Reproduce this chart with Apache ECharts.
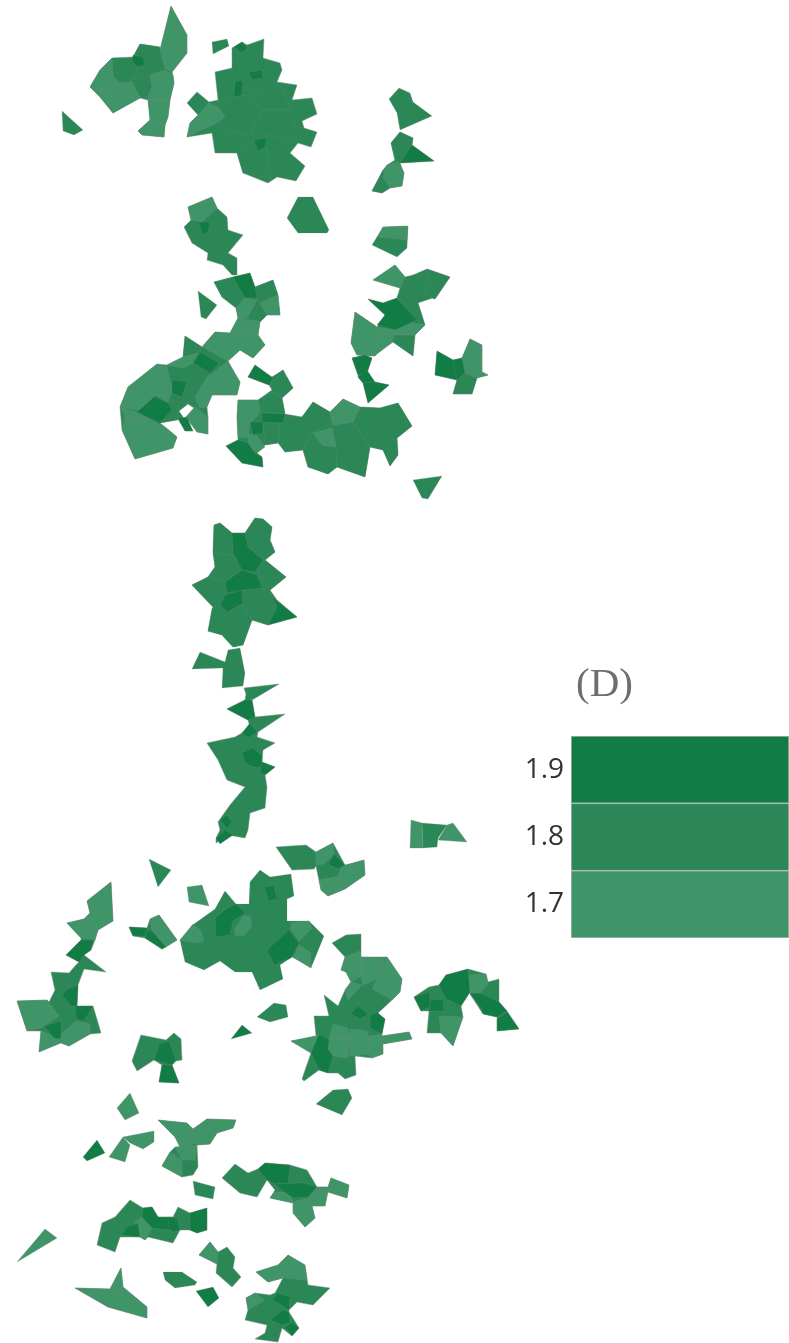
<!DOCTYPE html>
<html><head><meta charset="utf-8">
<style>html,body{margin:0;padding:0;background:#fff}#c{width:789px;height:1343px}</style>
<script src="https://cdn.jsdelivr.net/npm/echarts@6/dist/echarts.min.js"></script>
</head><body><div id="c"></div>
<script>
const legendLabels = ['1.9','1.8','1.7'];
const legendValues = [1.9,1.8,1.7];
const colors = {1.9:'#127c45',1.8:'#2b8856',1.7:'#3f9568'};

const patches18 = [
[232,48,242,42,247,45,264,39,263,58,280,63,282,70,277,82,297,85,292,100,312,98,317,114,302,121,304,128,317,132,311,147,298,143,290,153,305,166,296,181,277,177,268,183,243,173,237,153,215,153,212,133,187,137,190,123,198,115,187,103,197,92,209,102,218,100,215,72,232,68],
[171,6,187,35,187,53,172,72,173,75,174,83,170,100,168,117,165,125,164,137,142,135,138,131,150,120,148,100,140,98,113,113,100,97,90,87,100,70,112,58,133,57,140,44,160,47,160,50,165,30],
[400,132,413,138,412,145,434,161,400,163,404,173,402,186,390,188,382,193,372,191,383,170,387,165,395,160,391,143],
[188,207,212,197,217,208,227,217,228,230,243,235,228,253,237,258,237,275,232,275,223,265,207,260,208,253,192,243,184,227,191,220],
[214,282,233,277,250,273,255,287,273,280,278,295,280,315,267,315,260,322,258,335,265,345,253,358,240,350,228,361,240,382,237,395,212,395,207,407,208,417,208,434,197,432,186,417,194,408,188,404,179,411,185,420,193,431,185,431,178,419,160,423,165,427,177,437,173,448,135,459,122,430,120,407,128,387,157,364,167,365,183,357,185,336,202,347,215,332,230,333,238,318,236,308,222,297],
[255,365,273,378,283,370,293,388,282,398,285,414,302,417,313,402,330,412,343,399,360,407,380,408,398,403,412,426,397,438,398,455,390,466,383,450,370,447,365,477,337,467,328,474,308,467,303,450,285,452,278,443,265,445,257,453,262,457,263,467,242,463,226,446,238,440,237,417,238,400,258,400,272,390,269,385,248,377],
[373,280,395,265,405,277,413,275,427,269,450,277,435,299,425,295,418,303,425,325,415,335,413,356,393,342,378,353,375,356,357,355,351,343,355,312,377,327,385,315,368,299,383,303,397,298,400,288],
[352,358,365,355,372,358,367,373,375,382,389,385,368,403,363,383,358,377,358,375],
[437,351,453,360,462,358,470,339,482,345,482,372,488,375,477,378,472,394,453,394,457,380,435,375],
[214,525,220,523,232,533,245,533,255,518,263,519,272,527,270,540,275,552,265,560,286,577,270,590,277,600,297,617,268,625,252,620,243,645,233,647,222,635,208,631,213,607,192,585,208,577,215,567,213,552],
[244,688,279,684,252,700,255,717,285,714,258,732,257,737,275,743,263,750,262,762,275,767,265,775,267,787,265,808,250,813,248,830,245,838,228,835,216,843,216,838,220,830,218,822,230,805,245,787,227,780,218,760,207,743,235,737,242,733,250,727,248,720,227,709,245,700,246,694],
[111,882,113,921,98,930,95,940,91,950,84,955,106,972,84,969,78,985,77,1006,93,1006,101,1033,90,1034,69,1046,61,1043,39,1052,41,1031,27,1031,17,1001,47,1000,49,1002,55,990,51,972,69,973,76,965,79,962,66,955,81,940,81,938,67,923,84,919,90,913,87,901],
[129,927,147,928,150,919,159,915,177,940,162,949,145,938,133,936],
[276,847,306,845,316,852,333,843,345,865,364,860,365,875,345,889,328,896,321,890,316,866,314,869,292,870],
[332,943,346,935,361,934,361,957,387,957,402,979,400,992,392,1000,377,1014,385,1019,382,1034,382,1036,409,1032,412,1039,383,1044,383,1054,372,1058,355,1056,356,1075,345,1079,338,1073,328,1073,319,1070,304,1081,302,1079,311,1053,291,1041,316,1036,314,1016,329,1016,324,995,338,1006,345,990,351,982,346,972,341,970,345,957],
[414,997,429,987,439,985,446,975,468,969,486,974,488,982,499,979,499,1002,507,1011,519,1029,497,1031,497,1017,483,1014,470,994,470,992,461,1006,463,1017,453,1046,441,1033,427,1033,429,1011,421,1011],
[141,1035,166,1040,174,1033,181,1039,182,1060,176,1061,172,1065,179,1083,159,1082,162,1065,154,1060,137,1071,132,1061],
[158,1120,187,1123,193,1129,207,1119,236,1120,233,1128,217,1133,210,1144,197,1145,198,1167,193,1175,182,1177,162,1166,170,1152,175,1147,180,1147,175,1137],
[222,1178,235,1164,248,1173,258,1169,265,1163,290,1165,307,1170,317,1187,328,1187,331,1178,349,1185,347,1198,328,1192,325,1206,312,1206,315,1218,305,1227,293,1213,293,1203,270,1198,275,1190,267,1180,257,1197,240,1193],
[102,1223,115,1217,130,1200,143,1208,152,1207,158,1217,173,1217,178,1207,190,1213,207,1208,207,1230,197,1233,190,1230,180,1230,173,1243,148,1237,145,1240,140,1237,120,1237,115,1252,97,1245],
[75,1288,110,1289,121,1268,123,1287,147,1307,147,1318,108,1307],
[256,1272,278,1265,288,1255,305,1265,308,1285,330,1288,313,1305,297,1302,289,1310,289,1312,299,1328,292,1336,282,1328,278,1342,255,1339,265,1333,267,1325,245,1320,248,1310,246,1298,255,1293,270,1295,275,1293,283,1278,268,1282],
[199,1255,210,1242,218,1252,227,1247,235,1257,233,1268,241,1277,232,1287,216,1273,217,1264]
];

const cells18 = [
[218,100,245,95,262,110,250,135,222,130],[245,95,280,85,292,110,262,110],[262,110,292,110,298,143,270,135,250,135],[237,153,254,140,268,150,270,178,243,173],
[140,44,160,47,165,68,150,75,138,65,133,57],[112,58,133,58,138,67,133,78,120,83,113,75],[133,78,150,75,152,87,145,98,140,98,132,82],
[62,111,83,130,74,135,63,131],[212,42,227,39,229,46,213,54],
[399,88,410,93,413,102,432,116,400,130,397,113,389,99],[400,132,413,138,412,145,400,163,395,160,391,143],[383,170,390,188,382,193,372,191],
[298,197,313,197,329,230,327,233,298,233,287,218],[383,227,408,226,407,248,397,257,372,245],
[198,291,217,305,206,319,201,317],
[214,282,233,277,245,298,235,307,222,297],[255,287,273,280,278,295,260,303,257,298],[257,300,260,303,267,315,260,322,247,318],
[185,336,202,347,198,353,183,357],[165,367,193,363,210,373,200,393,188,403,172,407,172,387],[168,402,188,403,177,410,178,420,160,423,172,410],
[270,378,283,370,293,388,282,398,272,390],[272,392,282,398,285,413,262,413,258,400],[263,423,280,423,278,443,265,445],
[285,417,302,417,313,402,330,412,332,423,313,432,303,450,285,452,278,442,280,423],[303,450,313,432,322,445,336,447,337,467,328,474,308,467],[332,425,353,422,370,447,365,477,337,467,336,447],
[360,407,380,408,398,403,412,426,397,438,398,455,390,466,383,450,370,447,353,422],
[393,342,395,335,415,335,413,356],[397,297,405,283,413,275,428,275,433,298,418,303,425,325,417,320],[427,269,450,277,435,299,425,295,428,275],
[457,380,465,374,477,378,472,394,453,394],[413,480,442,476,428,499,422,498],
[214,525,220,523,232,533,233,553,230,560,213,552],[245,533,255,518,263,519,272,527,270,540,275,552,265,560,248,547],[213,552,233,555,242,570,225,582,208,577,215,567],[265,560,286,577,270,590,258,573],
[192,585,208,577,225,582,225,595,213,607],[243,590,262,588,270,593,277,607,268,625,252,620,242,603],[212,608,220,605,230,612,242,605,252,620,243,645,233,647,222,635,208,631],
[200,652,225,662,228,650,240,648,245,673,243,686,222,688,223,668,192,669],
[422,823,447,825,438,838,437,847,423,848],
[260,870,270,877,291,874,294,896,287,899,287,921,309,921,324,936,311,968,292,957,280,965,283,979,260,990,252,972,235,972,220,961,204,970,185,962,180,940,194,924,215,909,225,891,236,904,249,904,250,882],
[149,859,171,870,158,887],[257,1017,274,1003,286,1005,288,1017,270,1022],
[316,1104,333,1090,348,1089,352,1098,342,1115],[193,1181,215,1187,213,1199,195,1195],
[163,1272,182,1272,197,1282,195,1285,175,1288,165,1280]
];

const cells17 = [
[171,6,187,35,187,53,172,72,165,68,160,50,165,30],[112,58,113,77,120,83,107,92,90,87,100,70],[90,87,107,92,120,83,132,82,140,98,113,113,100,97],
[150,75,165,70,173,75,174,83,170,100,147,100,152,87],[148,100,170,100,168,117,165,125,150,120],[150,120,165,125,164,137,142,135,138,131],
[209,103,218,107,225,117,215,124,187,137,190,123,198,115],
[387,165,398,162,404,173,402,186,390,188,383,177],[383,227,408,226,407,240,378,237],
[188,207,212,197,217,208,202,222,191,220],[260,303,278,295,280,315,267,315],[245,298,257,300,247,318,238,318,236,308],
[238,318,260,322,258,335,230,333],[215,332,230,333,258,335,265,345,253,358,240,350,228,361,202,347],[167,365,183,357,198,353,193,363,183,368],
[157,364,167,367,172,390,168,402,138,410,120,407,128,387],[125,417,147,418,165,427,177,437,173,448,135,459,122,430],[120,407,137,412,147,418,125,417],
[227,362,240,382,237,395,212,395,207,407,200,408,195,397,207,377],[195,407,208,417,208,434,197,432,186,417],
[238,400,258,400,260,413,250,423,248,437,238,438,237,417],[248,435,255,433,265,447,257,453,248,447],
[330,412,343,399,360,407,353,422,333,425],[313,433,332,428,336,447,322,445],
[355,312,377,327,378,350,375,356,357,355,351,343],[377,327,395,330,392,342,378,353],[395,330,410,322,425,325,415,335,393,335],[373,280,395,265,405,277,400,288],
[470,339,482,345,482,372,488,375,477,378,465,373,462,358],
[411,820,422,823,423,848,410,848],[447,825,453,823,467,842,438,840],
[111,882,113,921,98,930,95,940,81,938,67,923,84,919,90,913,87,901],[17,1001,47,1000,59,1016,41,1028,27,1031],[41,1031,61,1039,59,1043,39,1052],[61,1034,76,1021,90,1024,90,1034,69,1046,61,1043],
[187,887,202,885,209,906,189,902],[150,919,159,915,177,940,166,947,152,931],
[234,930,243,916,250,916,252,926,245,935,236,936],[180,940,193,924,201,931,204,941,198,943],[291,923,309,921,312,928,299,941,291,930],[299,945,311,953,311,968,294,957],
[316,852,333,843,334,854,324,864,316,865],[341,867,364,860,365,875,345,889,338,876],[319,880,340,876,345,889,328,896,321,890],
[345,957,360,951,361,957,363,975,351,982,346,972,341,970],[361,957,385,958,377,979,363,985,361,975],[387,957,402,979,400,992,392,1000,372,989,377,979],[351,982,362,985,348,1000,345,990],
[333,1024,348,1028,350,1039,329,1039],[329,1039,350,1039,348,1058,333,1056,328,1049],[350,1029,367,1031,370,1039,368,1054,350,1056],[370,1036,382,1034,383,1054,372,1058,368,1054],[382,1036,409,1032,412,1039,383,1044],[291,1041,316,1036,319,1034,318,1053,311,1053],
[439,1016,463,1017,453,1046,441,1033],[468,975,486,974,488,984,480,993,470,992],
[130,1093,139,1113,125,1120,117,1108],[123,1137,130,1145,125,1162,109,1157],[123,1137,154,1131,154,1142,143,1149,130,1143],
[158,1120,187,1123,193,1129,197,1143,180,1147,175,1137],[193,1129,207,1119,236,1120,233,1128,217,1133,210,1144,197,1145],[175,1147,197,1145,195,1160,182,1160],[170,1152,182,1160,182,1177,162,1166],
[275,1192,290,1192,293,1203,270,1198],[317,1187,328,1187,325,1206,312,1206,308,1198],[328,1187,331,1178,349,1185,347,1198,328,1192],[293,1202,308,1198,312,1206,315,1218,305,1227,293,1213],
[135,1222,142,1217,152,1228,145,1240,140,1237],[17,1262,45,1229,57,1238],
[75,1288,110,1289,123,1287,147,1307,147,1318,108,1307],[110,1289,121,1268,123,1287,115,1297],
[199,1255,210,1242,218,1252,217,1264],[256,1272,278,1265,288,1255,305,1265,307,1280,283,1278,268,1282],[246,1298,255,1293,265,1300,248,1310]
];

const cells19 = [
[133,55,143,57,145,65,137,67,132,60],[234,47,242,42,247,48,242,53],[249,72,262,70,263,78,252,80],[235,82,243,80,242,95,234,97],[254,140,267,138,265,147,258,151],
[412,145,434,161,400,163],[198,222,210,222,208,232,203,235],[233,277,250,273,255,287,257,298,245,298],
[200,352,219,363,210,373,193,363],[172,380,187,382,182,397,172,393],[155,396,168,403,172,410,160,423,137,412],[178,418,187,417,193,431,185,431],
[255,365,273,378,269,385,248,377],[262,413,285,414,283,423,262,422],[250,422,263,422,263,433,253,435],[226,446,238,440,248,443,255,453,262,457,263,467,242,463],
[352,358,365,355,372,358,367,373,358,375],[358,377,367,370,375,382,363,383],[363,383,375,382,389,385,368,403],[368,299,383,303,397,298,417,320,395,330,377,325,385,315],
[437,351,453,360,462,370,457,380,435,375],[453,360,462,358,465,373,457,380],
[232,533,245,533,248,547,263,560,255,572,242,570,233,553],[225,582,242,570,257,575,262,588,243,590,227,593],[225,595,242,590,243,603,228,612,220,605],[272,597,297,617,268,625,277,607],
[227,709,245,700,252,700,255,717,248,720],[242,733,250,723,257,732,248,738],[242,753,252,748,262,755,262,767,253,767,245,763],[262,762,275,767,265,775,260,773],[220,820,227,815,232,822,227,828],[216,838,225,830,233,835,220,844],
[81,940,93,940,91,950,84,955,79,962,66,955],[66,990,78,985,77,1006,71,1006,62,995],[75,1006,93,1006,84,1021,76,1019],[44,1026,61,1021,61,1039,54,1038],
[129,927,147,928,145,936,133,936],[147,930,152,931,166,947,162,949,145,938],
[264,887,274,886,277,899,269,901],[226,909,236,904,245,913,233,921,230,935,216,937,215,918],[282,936,289,930,299,943,291,958,274,965,267,950],
[334,854,345,865,338,869,328,864],[358,1006,368,1014,360,1019,351,1014],[370,1016,377,1012,385,1019,382,1034,370,1028],[319,1034,329,1039,328,1049,333,1056,328,1073,319,1070,311,1053],
[414,997,429,992,431,1006,421,1011],[431,999,443,1000,444,1011,429,1011],[439,985,446,975,468,969,470,992,461,1006,446,999],[470,994,480,993,499,1002,507,1011,497,1017,483,1014,480,1006],[497,1019,507,1012,519,1029,497,1031],
[231,1039,242,1025,252,1033],[159,1044,169,1041,176,1060,172,1065,154,1060],[162,1065,172,1065,179,1083,159,1082],
[97,1140,105,1153,87,1161,83,1157],[258,1169,265,1163,290,1165,288,1183,275,1184,267,1180],[275,1184,303,1183,317,1187,308,1197,293,1198,282,1190],
[120,1237,127,1227,138,1223,140,1237,120,1235],[143,1208,152,1207,158,1217,173,1217,170,1230,152,1228,142,1217],[168,1217,177,1218,180,1230,173,1232,169,1228],[190,1213,207,1208,207,1230,197,1233,190,1230],
[196,1291,213,1287,219,1298,208,1307],[277,1293,290,1297,289,1310,273,1300],[270,1320,283,1310,289,1312,290,1323,282,1325],[285,1327,292,1322,299,1328,292,1336]
];

function cellSeries(list, value, alpha){
  return {
    type:'custom', coordinateSystem:'cartesian2d', xAxisIndex:0, yAxisIndex:0,
    silent:true, clip:false, animation:false,
    data:list.map((c,i)=>[c[0],c[1],i]),
    renderItem(params, api){
      const flat = list[api.value(2)], pts = [];
      for(let i=0;i<flat.length;i+=2) pts.push(api.coord([flat[i],flat[i+1]]));
      return {type:'polygon', shape:{points:pts},
        style:{fill:colors[value], stroke:'rgba(125,135,130,'+alpha+')', lineWidth:0.8, lineJoin:'round'}};
    }
  };
}

const chart = echarts.init(document.getElementById('c'), null, {renderer:'canvas'});
chart.setOption({
  backgroundColor:'#fff', animation:false,
  title:{text:'(D)', left:571, top:660, textStyle:{fontFamily:'Liberation Serif', fontSize:41, fontWeight:'normal', color:'#6e6e6e'}},
  grid:[{left:0,top:0,width:789,height:1343},{left:571,top:736,width:218,height:202}],
  xAxis:[{type:'value',gridIndex:0,min:0,max:789,show:false},{type:'value',gridIndex:1,min:0,max:1,show:false}],
  yAxis:[{type:'value',gridIndex:0,min:0,max:1343,inverse:true,show:false},
    {type:'category',gridIndex:1,inverse:true,data:legendLabels,
     axisLine:{show:false},axisTick:{show:false},
     axisLabel:{fontFamily:'Open Sans',fontSize:28,color:'#333',margin:7}}],
  series:[
    cellSeries(patches18,1.8,0.6),cellSeries(cells18,1.8,0.25),cellSeries(cells17,1.7,0.4),cellSeries(cells19,1.9,0.3),
    {type:'bar',xAxisIndex:1,yAxisIndex:1,barWidth:'100%',silent:true,
     data:legendValues.map(v=>({value:1,itemStyle:{color:colors[v],borderColor:'rgba(130,140,135,0.5)',borderWidth:1}}))}
  ]
});
</script></body></html>
